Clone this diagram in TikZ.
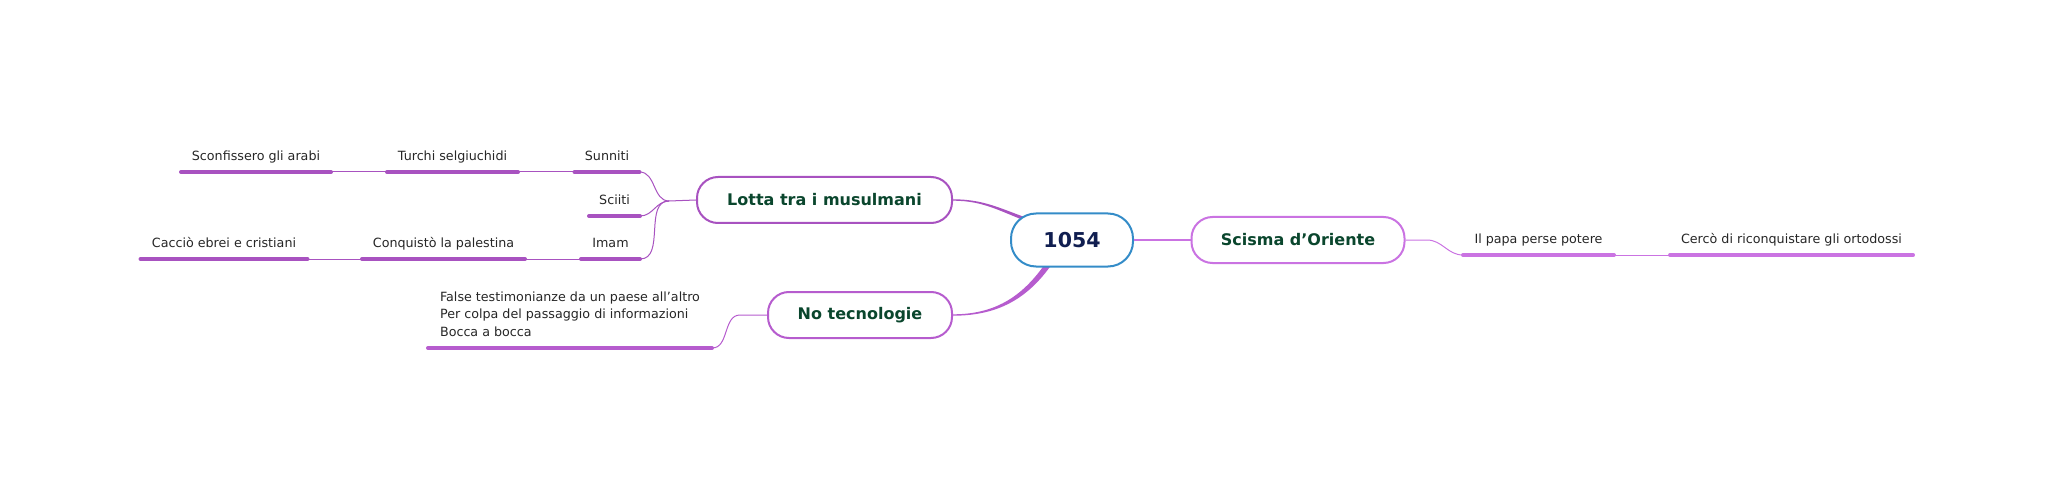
\documentclass[tikz,border=0pt]{standalone}
\usepackage{fontspec}
\setmainfont{DejaVu Sans}
\usepackage{xcolor}
\usepackage{tikz}
\usetikzlibrary{positioning,calc,backgrounds}

\definecolor{rootblue}{RGB}{52,140,200}
\definecolor{roottext}{RGB}{16,30,80}
\definecolor{topictext}{RGB}{10,70,45}
\definecolor{lottacol}{RGB}{168,82,192}
\definecolor{notecol}{RGB}{182,92,206}
\definecolor{scismacol}{RGB}{202,115,226}

\begin{document}
\begin{tikzpicture}[x=1pt, y=1pt,
    root/.style={rectangle, draw=rootblue, line width=2pt, rounded corners=25pt, fill=white, minimum width=122pt, minimum height=53pt, font=\fontsize{20.5}{24}\selectfont\bfseries, text=roottext},
    topic/.style={rectangle, draw=#1, line width=2pt, rounded corners=21pt, fill=white, minimum height=46pt, font=\fontsize{16}{19}\selectfont\bfseries, text=topictext},
    leaf/.style={anchor=south, inner xsep=0pt, inner ysep=11.5pt, text depth=0pt, font=\fontsize{12.7}{17.5}\selectfont, text=black!85},
    uline/.style={line width=3.5pt, line cap=round},
    twig/.style={line width=1pt}
  ]
    \useasboundingbox (0,0) rectangle (2048,480);

    % main topics
    \node[root] (c1054) at (1072,240) {1054};
    \node[topic=lottacol, minimum width=255pt] (lotta) at (824.5,280) {Lotta tra i musulmani};
    \node[topic=notecol, minimum width=184pt] (notec) at (860,165) {No tecnologie};
    \node[topic=scismacol, minimum width=213pt] (scisma) at (1298,240) {Scisma d’Oriente};

    % leaves
    \node[leaf, minimum width=65pt] (sunniti) at (607,308) {Sunniti};
    \node[leaf, minimum width=51pt] (sciiti) at (614.5,264) {Sciiti};
    \node[leaf, minimum width=59pt] (imam) at (610.5,221) {Imam};
    \node[leaf, minimum width=131pt] (turchi) at (452.5,308) {Turchi selgiuchidi};
    \node[leaf, minimum width=150pt] (sconf) at (256,308) {Sconfissero gli arabi};
    \node[leaf, minimum width=163pt] (conq) at (443.5,221) {Conquistò la palestina};
    \node[leaf, minimum width=167pt] (caccio) at (224,221) {Cacciò ebrei e cristiani};
    \node[leaf, minimum width=284pt, align=left] (falsi) at (570,132) {False testimonianze da un paese all’altro\\Per colpa del passaggio di informazioni\\Bocca a bocca};
    \node[leaf, minimum width=151pt] (papa) at (1538.5,225) {Il papa perse potere};
    \node[leaf, minimum width=243pt] (cerco) at (1791.5,225) {Cercò di riconquistare gli ortodossi};

    \coordinate (jl) at (669,279);
    \coordinate (jn) at (740,165);
    \coordinate (js) at (1427,240);

    % underlines
    \foreach \n in {sunniti,sciiti,imam,turchi,sconf,conq,caccio}
      \draw[uline, lottacol] (\n.south west) -- (\n.south east);
    \draw[uline, notecol] (falsi.south west) -- (falsi.south east);
    \foreach \n in {papa,cerco}
      \draw[uline, scismacol] (\n.south west) -- (\n.south east);

    % twigs
    \draw[twig, lottacol] (lotta.west) -- (jl);
    \foreach \n in {sunniti,sciiti,imam}
      \draw[twig, lottacol] (jl) to[out=180, in=0] (\n.south east);
    \draw[twig, lottacol] (sunniti.south west) -- (turchi.south east);
    \draw[twig, lottacol] (turchi.south west) -- (sconf.south east);
    \draw[twig, lottacol] (imam.south west) -- (conq.south east);
    \draw[twig, lottacol] (conq.south west) -- (caccio.south east);
    \draw[twig, notecol] (notec.west) -- (jn) to[out=180, in=0] (falsi.south east);
    \draw[twig, scismacol] (scisma.east) -- (js) to[out=0, in=180] (papa.south west);
    \draw[twig, scismacol] (papa.south east) -- (cerco.south west);

    % trunks, tapering towards the topics
    \begin{scope}[on background layer]
      \fill[lottacol] ($(lotta.east)+(0,0.7)$) to[out=0, in=160] ($(c1054.center)+(-45,22)$)
        -- ($(c1054.center)+(-41,17)$) to[out=160, in=0] ($(lotta.east)+(0,-0.7)$) -- cycle;
      \fill[notecol] ($(notec.east)+(0,0.7)$) to[out=0, in=235] ($(c1054.center)+(-27,-24)$)
        -- ($(c1054.center)+(-20,-24)$) to[out=235, in=0] ($(notec.east)+(0,-0.7)$) -- cycle;
    \end{scope}
    \draw[scismacol, line width=1.8pt] (c1054.east) -- (scisma.west);
  \end{tikzpicture}
\end{document}
